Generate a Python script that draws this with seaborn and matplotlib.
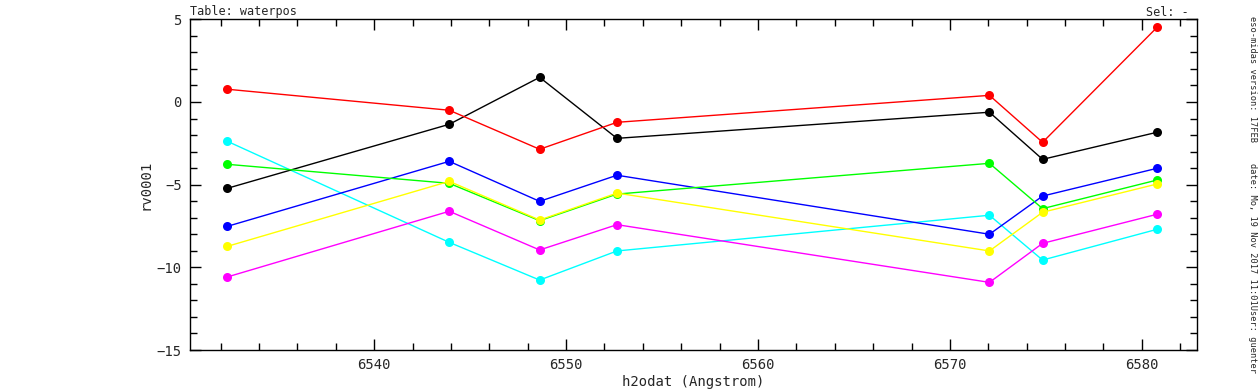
import numpy as np
import pandas as pd
import seaborn as sns
import matplotlib.pyplot as plt
from matplotlib.ticker import MultipleLocator

# wavelengths of the water lines (Angstrom)
h2odat = [6532.35, 6543.91, 6548.62, 6552.65, 6572.06, 6574.83, 6580.80]

# rv0001 per spectrum
rv_red = [0.77, -0.50, -2.86, -1.23, 0.40, -2.44, 4.52]
rv_black = [-5.22, -1.35, 1.49, -2.20, -0.62, -3.47, -1.83]
rv_blue = [-7.52, -3.59, -6.01, -4.43, -8.00, -5.69, -4.01]
rv_green = [-3.77, -4.92, -7.18, -5.57, -3.71, -6.45, -4.72]
rv_yellow = [-8.73, -4.80, -7.14, -5.51, -9.01, -6.67, -4.96]
rv_magenta = [-10.58, -6.61, -8.95, -7.42, -10.91, -8.55, -6.79]
rv_cyan = [-2.38, -8.49, -10.77, -9.01, -6.85, -9.56, -7.70]

series = {
    'cyan': rv_cyan,
    'magenta': rv_magenta,
    'blue': rv_blue,
    'black': rv_black,
    'red': rv_red,
    'green': rv_green,
    'yellow': rv_yellow,
}
colors = {'cyan': '#00ffff', 'magenta': '#ff00ff', 'blue': '#0000ff', 'black': '#000000',
          'red': '#ff0000', 'green': '#00ff00', 'yellow': '#ffff00'}

df = pd.concat([pd.DataFrame({'h2odat': h2odat, 'rv0001': v, 'series': k})
                for k, v in series.items()], ignore_index=True)

sns.set_style('white')
plt.rcParams['font.family'] = ['DejaVu Sans Mono']

fig = plt.figure(figsize=(12.6, 3.9), dpi=100)
ax = fig.add_axes([190 / 1260, 1 - 350 / 390, (1196.5 - 190) / 1260, (350 - 19.3) / 390])

sns.lineplot(data=df, x='h2odat', y='rv0001', hue='series', palette=colors,
             hue_order=list(series.keys()), marker='o', markersize=6.5, markeredgewidth=0,
             linewidth=1, legend=False, ax=ax)

ax.set_xlim(6530.4, 6582.85)
ax.set_ylim(-15, 5)
ax.xaxis.set_major_locator(MultipleLocator(10))
ax.xaxis.set_minor_locator(MultipleLocator(2))
ax.yaxis.set_major_locator(MultipleLocator(5))
ax.yaxis.set_minor_locator(MultipleLocator(1))
ax.tick_params(which='both', direction='in', top=True, right=True, bottom=True, left=True,
               color='black', width=1, labelsize=10, pad=6)
ax.tick_params(which='major', length=8)
ax.tick_params(which='minor', length=5)
for s in ax.spines.values():
    s.set_color('black')
    s.set_linewidth(1)

ax.set_xlabel('h2odat (Angstrom)', fontsize=10, labelpad=2)
ax.set_ylabel('rv0001', fontsize=10, labelpad=3)

fig.text(190 / 1260, 1 - 12 / 390, 'Table: waterpos', fontsize=8.5, va='center', ha='left')
fig.text(1189 / 1260, 1 - 12 / 390, 'Sel: -', fontsize=8.5, va='center', ha='right')
fig.text(1252 / 1260, 1 - 195 / 390,
         'eso-midas version: 17FEB    date: Mo, 19 Nov 2017 11:01User: guenter',
         fontsize=6.2, rotation=-90, va='center', ha='center')

fig.savefig('out.png', dpi=100, facecolor='white')
